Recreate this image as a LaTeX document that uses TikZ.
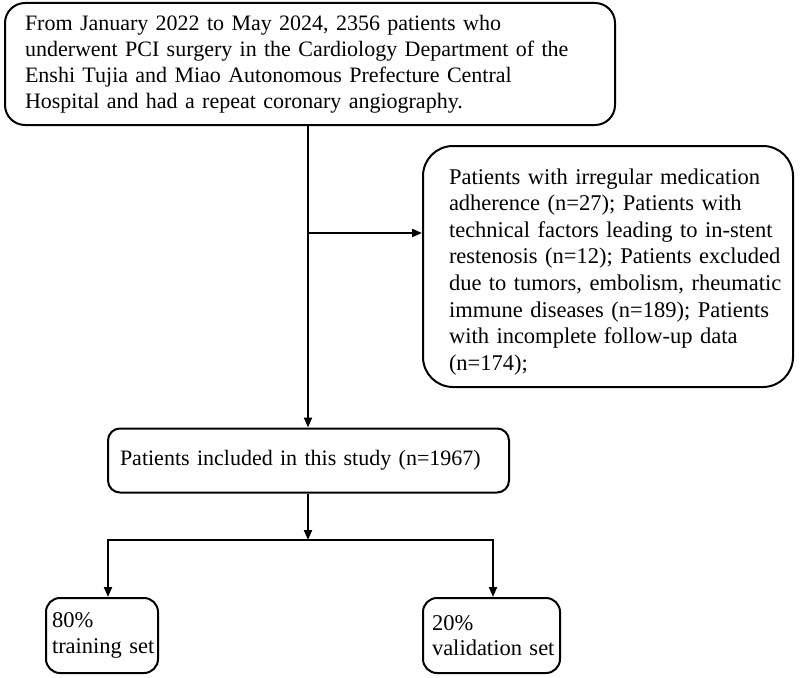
\documentclass[tikz,border=0pt]{standalone}
\usepackage{fontspec}
\setmainfont{Liberation Serif}
\usetikzlibrary{arrows.meta}
\begin{document}
\begin{tikzpicture}[x=1pt,y=-1pt,
  box/.style={draw, line width=2pt, align=left, anchor=center, inner ysep=0pt},
  arr/.style={line width=2pt, -{Triangle[length=10pt,width=8pt]}}
]
\useasboundingbox (0,0) rectangle (800,677);
\def\nobreaks{\hyphenpenalty=10000\exhyphenpenalty=10000\relax}
\def\L#1{\mbox{#1}}

\node[box, rounded corners=20pt, text width=570pt, inner xsep=20pt, minimum height=122pt,
  font=\fontsize{22}{26}\selectfont\nobreaks] (b1) at (310,64)
  {\L{From January 2022 to May 2024, 2356 patients who}\\
   \L{underwent PCI surgery in the Cardiology Department of the}\\
   \L{Enshi Tujia and Miao Autonomous Prefecture Central}\\
   \L{Hospital and had a repeat coronary angiography.}};

\node[box, rounded corners=30pt, text width=318pt, inner xsep=26pt, minimum height=241pt,
  font=\fontsize{22.5}{26.6}\selectfont\nobreaks] (b2) at (608,266.5)
  {\L{\rule{0pt}{26pt}Patients with irregular medication}\\
   \L{adherence (n=27); Patients with}\\
   \L{technical factors leading to in-stent}\\
   \L{restenosis (n=12); Patients excluded}\\
   \L{due to tumors, embolism, rheumatic}\\
   \L{immune diseases (n=189); Patients}\\
   \L{with incomplete follow-up data}\\
   \L{(n=174);}};

\node[box, rounded corners=12pt, text width=377pt, inner xsep=12pt, minimum height=64pt,
  font=\fontsize{22}{25}\selectfont\nobreaks] (b3) at (308.5,460.5)
  {\L{Patients included in this study (n=1967)}};

\node[box, rounded corners=14pt, text width=100pt, inner xsep=6pt, minimum height=75pt,
  font=\fontsize{22.5}{25.5}\selectfont\nobreaks] (b4) at (102,635.5)
  {\L{80\%}\\\L{training set}};

\node[box, rounded corners=14pt, text width=119pt, inner xsep=9pt, minimum height=75pt,
  font=\fontsize{22.5}{25.5}\selectfont\nobreaks] (b5) at (491.5,635.5)
  {\L{20\%}\\\L{validation set}};

\coordinate (br) at (308,233);
\coordinate (jn) at (308,540);

\draw[arr] (br |- b1.south) -- (br |- b3.north);
\draw[arr] (br) -- (br -| b2.west);
\draw[arr] (jn |- b3.south) -- (jn);
\draw[arr] (jn) -| ([xshift=6pt]b4.north);
\draw[arr] (jn) -| ([xshift=1.5pt]b5.north);
\end{tikzpicture}
\end{document}
